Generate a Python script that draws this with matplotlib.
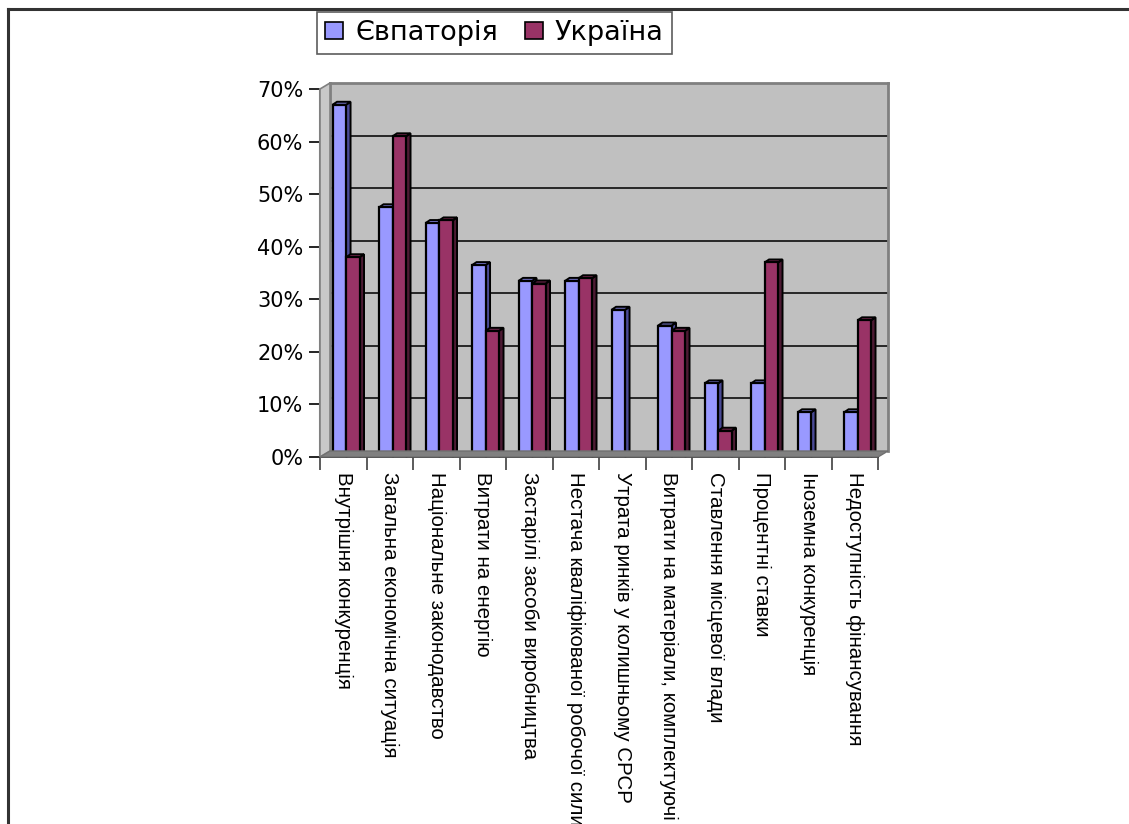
import matplotlib
matplotlib.use("Agg")
import matplotlib.pyplot as plt
from matplotlib.patches import Polygon, Patch
from matplotlib.lines import Line2D

categories = [
    "Внутрішня конкуренція",
    "Загальна економічна ситуація",
    "Національне законодавство",
    "Витрати на енергію",
    "Застарілі засоби виробництва",
    "Нестача кваліфікованої робочої сили",
    "Утрата ринків у колишньому СРСР",
    "Витрати на матеріали, комплектуючі",
    "Ставлення місцевої влади",
    "Процентні ставки",
    "Іноземна конкуренція",
    "Недоступність фінансування",
]
evpatoria = [0.67, 0.475, 0.445, 0.365, 0.335, 0.335, 0.28, 0.25, 0.14, 0.14, 0.085, 0.085]
ukraine = [0.38, 0.61, 0.45, 0.24, 0.33, 0.34, 0.0, 0.24, 0.05, 0.37, 0.0, 0.26]
series_names = ["Євпаторія", "Україна"]
y_ticks = [0.0, 0.1, 0.2, 0.3, 0.4, 0.5, 0.6, 0.7]

W, H = 1129, 824
fig = plt.figure(figsize=(W / 100, H / 100), dpi=100)
fig.patch.set_facecolor("white")

def fx(x):
    return x / W

def fy(y):
    return 1 - y / H

# geometry (pixels)
L, R, T, B = 320, 878, 89, 457
DX, DY = 10, 6

# outer border
fig.add_artist(Line2D([fx(8), fx(8)], [fy(9), fy(830)], color="#333333", lw=2.2, transform=fig.transFigure))
fig.add_artist(Line2D([fx(8), fx(1135)], [fy(9), fy(9)], color="#333333", lw=2.2, transform=fig.transFigure))

# back wall axes
axw = fig.add_axes([fx(L + DX), fy(B - DY), (R - L) / W, (B - T) / H])
axw.set_facecolor("#C0C0C0")
axw.set_ylim(0, 0.7)
axw.set_xlim(0, 1)
axw.set_yticks(y_ticks[1:-1])
axw.set_xticks([])
axw.grid(axis="y", color="#1a1a1a", lw=1.3)
axw.tick_params(left=False, labelleft=False)
for s in axw.spines.values():
    s.set_color("#808080")
    s.set_linewidth(2)
axw.spines["bottom"].set_visible(False)

# left wall and floor
fig.add_artist(Polygon([(fx(L), fy(B)), (fx(L), fy(T)), (fx(L + DX), fy(T - DY)), (fx(L + DX), fy(B - DY))],
                       closed=True, facecolor="#C8C8C8", edgecolor="#808080", lw=1.2, transform=fig.transFigure))
fig.add_artist(Polygon([(fx(L), fy(B)), (fx(R), fy(B)), (fx(R + DX), fy(B - DY)), (fx(L + DX), fy(B - DY))],
                       closed=True, facecolor="#808080", edgecolor="#707070", lw=1.0, transform=fig.transFigure))

# front axes with bars
ax = fig.add_axes([fx(L), fy(B), (R - L) / W, (B - T) / H])
ax.patch.set_alpha(0)
n = len(categories)
ax.set_xlim(-0.5, n - 0.5)
ax.set_ylim(0, 0.7)

w = 0.29
shift = 0.06
px_x = (R - L) / n
px_y = (B - T) / 0.7
ddx = 4.5 / px_x
ddy = 3.0 / px_y

styles = [
    ("#9999FF", "#4A4A96", "#7777CC"),
    ("#993366", "#4D1A33", "#7A2952"),
]
offsets = [shift - w / 2, shift + w / 2]
for k, (vals, (face, side, top)) in enumerate(zip([evpatoria, ukraine], styles)):
    xs = [i + offsets[k] for i in range(n)]
    for x, v in zip(xs, vals):
        if v <= 0:
            continue
        l, r = x - w / 2, x + w / 2
        ax.add_patch(Polygon([(r, 0), (r + ddx, ddy), (r + ddx, v + ddy), (r, v)], closed=True,
                             facecolor=side, edgecolor="black", lw=1.4, zorder=3 + k, clip_on=False))
        ax.add_patch(Polygon([(l, v), (l + ddx, v + ddy), (r + ddx, v + ddy), (r, v)], closed=True,
                             facecolor=top, edgecolor="black", lw=1.4, zorder=3 + k, clip_on=False))
        ax.bar([x], [v], width=w, color=face, edgecolor="black", lw=1.6, zorder=3 + k)

for s in ["top", "right"]:
    ax.spines[s].set_visible(False)
ax.spines["left"].set_color("#808080")
ax.spines["left"].set_linewidth(1.5)
ax.spines["bottom"].set_color("black")
ax.spines["bottom"].set_linewidth(1.2)

ax.set_yticks(y_ticks)
ax.set_yticklabels([f"{int(round(t * 100))}%" for t in y_ticks], fontsize=15, family="DejaVu Sans")
ax.tick_params(axis="y", direction="out", length=8, width=1.2, color="black", pad=4)

ax.set_xticks([i - 0.5 for i in range(n + 1)])
ax.set_xticklabels([])
ax.tick_params(axis="x", which="major", direction="out", length=9, width=1.2, color="#404040")
ax.set_xticks(list(range(n)), minor=True)
ax.set_xticklabels(categories, minor=True, rotation=270, fontsize=14.8, family="Liberation Sans")
ax.tick_params(axis="x", which="minor", length=0, pad=11)

handles = [Patch(facecolor=styles[0][0], edgecolor="black", lw=1.2),
           Patch(facecolor=styles[1][0], edgecolor="black", lw=1.2)]
leg = fig.legend(handles, series_names, loc="center", bbox_to_anchor=(fx(494.5), fy(33)), ncol=2,
                 prop={"family": "DejaVu Sans", "size": 19.5}, frameon=True, fancybox=False,
                 handlelength=0.65, handleheight=0.55, handletextpad=0.45, columnspacing=1.0,
                 borderpad=0.3, borderaxespad=0)
leg.get_frame().set_edgecolor("#333333")
leg.get_frame().set_linewidth(1.2)

fig.savefig("out.png", dpi=100)
